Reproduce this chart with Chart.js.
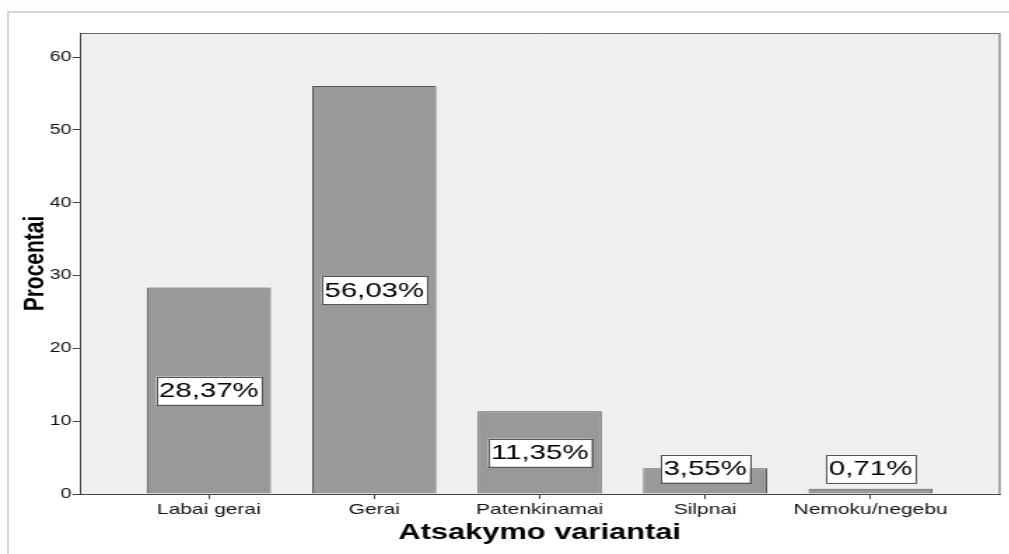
<!DOCTYPE html>
<html>
<head>
<meta charset="utf-8">
<script src="https://cdn.jsdelivr.net/npm/chart.js@4"></script>
<style>
  html, body { margin: 0; padding: 0; background: #fff; overflow: hidden; }
  #frame { position: absolute; left: 7px; top: 11px; width: 1100px; height: 600px;
    border-left: 2px solid #c6d9f1; border-top: 2px solid #c6d9f1; }
  /* the reference is stretched sideways, so draw narrower and widen it */
  #wrap { position: absolute; left: 0; top: 0; width: 721px; height: 554px;
    transform: scaleX(1.4); transform-origin: 0 0; }
</style>
</head>
<body>
<div id="frame"></div>
<div id="wrap"><canvas id="chart"></canvas></div>
<script>
const categories = ['Labai gerai', 'Gerai', 'Patenkinamai', 'Silpnai', 'Nemoku/negebu'];
const percents = [28.37, 56.03, 11.35, 3.55, 0.71];
const yTicks = [0, 10, 20, 30, 40, 50, 60];

const fontFamily = '"Liberation Sans", Arial, sans-serif';

// grey plot area with its frame
const plotFrame = {
  id: 'plotFrame',
  beforeDraw(chart) {
    const { ctx, chartArea: a } = chart;
    ctx.save();
    ctx.fillStyle = '#efefef';
    ctx.fillRect(a.left, a.top, a.right - a.left, a.bottom - a.top);
    ctx.strokeStyle = '#666';
    ctx.lineWidth = 1;
    ctx.beginPath();
    ctx.moveTo(a.left, a.top + 0.5);
    ctx.lineTo(a.right, a.top + 0.5);
    ctx.stroke();
    ctx.strokeStyle = '#888';
    ctx.lineWidth = 1.4;
    ctx.beginPath();
    ctx.moveTo(a.right, a.top);
    ctx.lineTo(a.right, a.bottom);
    ctx.stroke();
    ctx.restore();
  }
};

// white boxed percentage labels in the bars
const boxLabels = {
  id: 'boxLabels',
  afterDatasetsDraw(chart) {
    const { ctx } = chart;
    const yScale = chart.scales.y;
    const bars = chart.getDatasetMeta(0).data;
    ctx.save();
    ctx.font = '21px ' + fontFamily;
    ctx.textAlign = 'center';
    ctx.textBaseline = 'middle';
    bars.forEach((bar, i) => {
      const text = percents[i].toFixed(2).replace('.', ',') + '%';
      const w = ctx.measureText(text).width + 4;
      const h = 28;
      const y = yScale.getPixelForValue(Math.max(percents[i] / 2, 3.5));
      ctx.fillStyle = '#fff';
      ctx.fillRect(bar.x - w / 2, y - h / 2, w, h);
      ctx.strokeStyle = '#555';
      ctx.lineWidth = 1;
      ctx.strokeRect(Math.round(bar.x - w / 2) + 0.5, Math.round(y - h / 2) + 0.5, Math.round(w), h);
      ctx.fillStyle = '#000';
      ctx.fillText(text, bar.x, y + 1);
    });
    ctx.restore();
  }
};

const data = {
  datasets: [{
    label: 'Procentai',
    data: categories.map((c, i) => ({ x: i, y: percents[i] })),
    backgroundColor: '#999999',
    borderColor: '#555555',
    borderWidth: 1,
    barPercentage: 1,
    categoryPercentage: 0.75
  }]
};

const config = {
  type: 'bar',
  data: data,
  options: {
    responsive: true,
    maintainAspectRatio: false,
    animation: false,
    devicePixelRatio: 1,
    layout: { padding: { left: 0, top: 33, right: 7, bottom: 0 } },
    plugins: {
      legend: { display: false },
      tooltip: { enabled: false }
    },
    scales: {
      x: {
        type: 'linear',
        min: -0.78,
        max: 4.78,
        offset: false,
        afterBuildTicks: axis => { axis.ticks = categories.map((c, i) => ({ value: i })) },
        afterFit: axis => { axis.height = 60 },
        grid: { drawOnChartArea: false, drawTicks: true, tickLength: 5, tickColor: '#444', color: '#444', offset: false },
        border: { color: '#444', width: 1 },
        ticks: {
          callback: v => categories[v],
          autoSkip: false,
          maxRotation: 0,
          padding: 2,
          color: '#111',
          font: { family: fontFamily, size: 15 }
        },
        title: {
          display: true,
          text: 'Atsakymo variantai',
          color: '#000',
          font: { family: fontFamily, size: 22, weight: 'bold' },
          padding: { top: 0, bottom: 8 }
        }
      },
      y: {
        min: 0,
        max: 63.3,
        afterBuildTicks: axis => { axis.ticks = yTicks.map(v => ({ value: v })) },
        afterFit: axis => { axis.width = 57 },
        grid: { drawOnChartArea: false, drawTicks: true, tickLength: 5, tickColor: '#444', color: '#444' },
        border: { color: '#444', width: 1 },
        ticks: {
          padding: 1,
          color: '#111',
          font: { family: fontFamily, size: 14 }
        },
        title: {
          display: true,
          text: 'Procentai',
          color: '#000',
          font: { family: fontFamily, size: 21, weight: 'bold' },
          padding: { top: 13, bottom: 0 }
        }
      }
    }
  },
  plugins: [plotFrame, boxLabels]
};

const percentChart = new Chart(
  document.getElementById('chart'),
  config
);
</script>
</body>
</html>
